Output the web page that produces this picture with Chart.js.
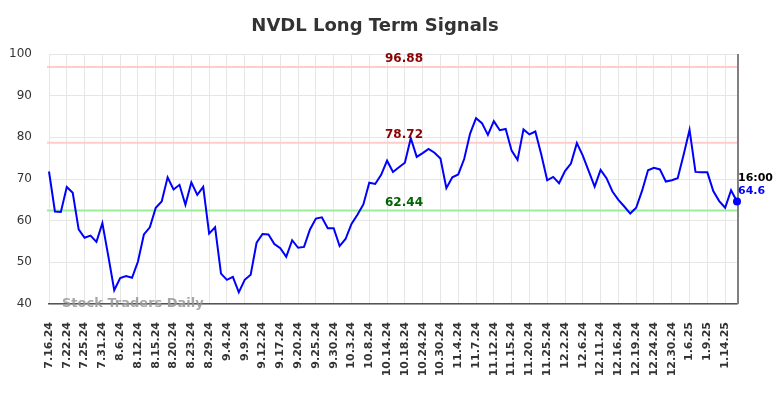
<!DOCTYPE html>
<html>
<head>
<meta charset="utf-8">
<script src="https://cdn.jsdelivr.net/npm/chart.js@4"></script>
<style>
  html, body { margin: 0; padding: 0; background: #fff; }
  #wrap { width: 784px; height: 398px; }
</style>
</head>
<body>
<div id="wrap"><canvas id="signalChart" width="784" height="398"></canvas></div>
<script>
// dates (one per data point)
const dates = [
  '7.16.24','7.17.24','7.18.24','7.22.24','7.23.24','7.24.24','7.25.24','7.26.24','7.29.24',
  '7.31.24','8.1.24','8.2.24','8.6.24','8.7.24','8.8.24','8.12.24','8.13.24','8.14.24',
  '8.15.24','8.16.24','8.19.24','8.20.24','8.21.24','8.22.24','8.23.24','8.26.24','8.27.24',
  '8.29.24','8.30.24','9.3.24','9.4.24','9.5.24','9.6.24','9.9.24','9.10.24','9.11.24',
  '9.12.24','9.13.24','9.16.24','9.17.24','9.18.24','9.19.24','9.20.24','9.23.24','9.24.24',
  '9.25.24','9.26.24','9.27.24','9.30.24','10.1.24','10.2.24','10.3.24','10.4.24','10.7.24',
  '10.8.24','10.9.24','10.11.24','10.14.24','10.15.24','10.16.24','10.18.24','10.21.24','10.22.24',
  '10.24.24','10.25.24','10.28.24','10.30.24','10.31.24','11.1.24','11.4.24','11.5.24','11.6.24',
  '11.7.24','11.8.24','11.11.24','11.12.24','11.13.24','11.14.24','11.15.24','11.18.24','11.19.24',
  '11.20.24','11.21.24','11.22.24','11.25.24','11.26.24','11.29.24','12.2.24','12.3.24','12.4.24',
  '12.6.24','12.9.24','12.10.24','12.11.24','12.12.24','12.13.24','12.16.24','12.17.24','12.18.24',
  '12.19.24','12.20.24','12.23.24','12.24.24','12.26.24','12.27.24','12.30.24','12.31.24','1.3.25',
  '1.6.25','1.7.25','1.8.25','1.9.25','1.10.25','1.13.25','1.14.25','1.15.25','1.16.25'
];

// closing prices
const prices = [
  71.8, 62.2, 62.1, 68.1, 66.7, 57.9, 55.9, 56.4, 54.9, 59.4,
  51.5, 43.3, 46.2, 46.7, 46.3, 50.2, 56.7, 58.4, 63.1, 64.6,
  70.4, 67.5, 68.6, 63.8, 69.2, 66.2, 68.1, 56.9, 58.4, 47.3,
  45.8, 46.5, 42.8, 45.8, 47.0, 54.7, 56.8, 56.7, 54.4, 53.4,
  51.3, 55.3, 53.5, 53.7, 57.9, 60.5, 60.8, 58.2, 58.2, 53.9,
  55.6, 59.2, 61.4, 63.9, 69.1, 68.8, 71.0, 74.4, 71.7, 72.8,
  73.9, 79.8, 75.3, 76.2, 77.2, 76.3, 74.9, 67.8, 70.4, 71.1,
  74.8, 80.9, 84.6, 83.4, 80.6, 83.9, 81.7, 82.0, 76.8, 74.6,
  81.9, 80.7, 81.4, 75.9, 69.7, 70.5, 69.0, 71.9, 73.7, 78.6,
  75.6, 71.9, 68.2, 72.2, 70.2, 67.0, 65.0, 63.4, 61.7, 63.1,
  67.2, 72.1, 72.7, 72.3, 69.4, 69.7, 70.2, 75.8, 81.8, 71.7,
  71.6, 71.6, 67.1, 64.7, 63.1, 67.3, 64.6
];

// signal levels
const levelValues = [96.88, 78.72, 62.44];
const levelLines  = ['#ffcccc', '#ffcccc', '#99ee99'];
const levelText   = ['#8b0000', '#8b0000', '#006400'];

const yTicks = [40, 50, 60, 70, 80, 90, 100];
const lastTime = '16:00';

Chart.defaults.font.family = 'DejaVu Sans';
Chart.defaults.color = '#333';

// extra drawing: level lines, watermark, title, last value tag
const overlay = {
  id: 'overlay',
  beforeDatasetsDraw(chart) {
    const { ctx, chartArea: a, scales: { y } } = chart;
    ctx.save();
    levelValues.forEach((v, i) => {
      const py = y.getPixelForValue(v);
      ctx.strokeStyle = levelLines[i];
      ctx.lineWidth = 2;
      ctx.beginPath();
      ctx.moveTo(a.left - 2, py);
      ctx.lineTo(a.right, py);
      ctx.stroke();
    });
    // right edge line
    ctx.strokeStyle = '#808080';
    ctx.lineWidth = 2;
    ctx.beginPath();
    ctx.moveTo(a.right + 1, a.top);
    ctx.lineTo(a.right + 1, a.bottom);
    ctx.stroke();
    ctx.restore();
  },
  afterDatasetsDraw(chart) {
    const { ctx, chartArea: a, scales: { x, y } } = chart;
    ctx.save();
    ctx.font = 'bold 12px DejaVu Sans';
    ctx.textAlign = 'center';
    ctx.textBaseline = 'bottom';
    levelValues.forEach((v, i) => {
      ctx.fillStyle = levelText[i];
      ctx.fillText(v.toFixed(2), 404, y.getPixelForValue(v) - 2);
    });

    // watermark
    ctx.font = 'bold 13px DejaVu Sans';
    ctx.fillStyle = 'rgba(150,150,150,0.85)';
    ctx.textAlign = 'left';
    ctx.textBaseline = 'middle';
    ctx.fillText('Stock Traders Daily', 62, a.bottom);

    // last point
    const n = prices.length - 1;
    const px = x.getPixelForValue(n);
    const py = y.getPixelForValue(prices[n]);
    ctx.fillStyle = '#0000ff';
    ctx.beginPath();
    ctx.arc(px, py, 4, 0, Math.PI * 2);
    ctx.fill();
    ctx.font = 'bold 11px DejaVu Sans';
    ctx.fillStyle = '#000';
    ctx.fillText(lastTime, px + 1, py - 23);
    ctx.fillStyle = '#0000ff';
    ctx.fillText(String(prices[n]), px + 1, py - 10);

    // title
    ctx.font = 'bold 18px DejaVu Sans';
    ctx.fillStyle = '#333';
    ctx.textAlign = 'center';
    ctx.fillText('NVDL Long Term Signals', 375, 26);
    ctx.restore();
  }
};

new Chart(document.getElementById('signalChart'), {
  type: 'line',
  data: {
    labels: dates,
    datasets: [{
      data: prices,
      borderColor: '#0000ff',
      borderWidth: 2,
      pointRadius: 0,
      tension: 0,
      fill: false
    }]
  },
  options: {
    responsive: false,
    animation: false,
    layout: { padding: { top: 54, right: 47, left: 0, bottom: 0 } },
    plugins: {
      legend: { display: false },
      tooltip: { enabled: false },
      title: { display: false }
    },
    scales: {
      x: {
        offset: false,
        afterFit: s => { s.height = 94; },
        border: { display: true, color: '#555', width: 1.5 },
        grid: { color: '#e6e6e6', lineWidth: 1, drawTicks: false },
        ticks: {
          autoSkip: false,
          maxRotation: 90,
          minRotation: 90,
          padding: 18,
          color: '#333',
          font: { size: 11, weight: 'bold' },
          callback: function (value, index) {
            return index % 3 === 0 ? this.getLabelForValue(value) : null;
          }
        }
      },
      y: {
        min: 40,
        max: 100,
        afterFit: s => { s.width = 49; },
        afterBuildTicks: s => { s.ticks = yTicks.map(v => ({ value: v })); },
        border: { display: false },
        grid: { color: '#e6e6e6', lineWidth: 1, drawTicks: false },
        ticks: { padding: 17, color: '#333', font: { size: 12 } }
      }
    }
  },
  plugins: [overlay]
});
</script>
</body>
</html>
